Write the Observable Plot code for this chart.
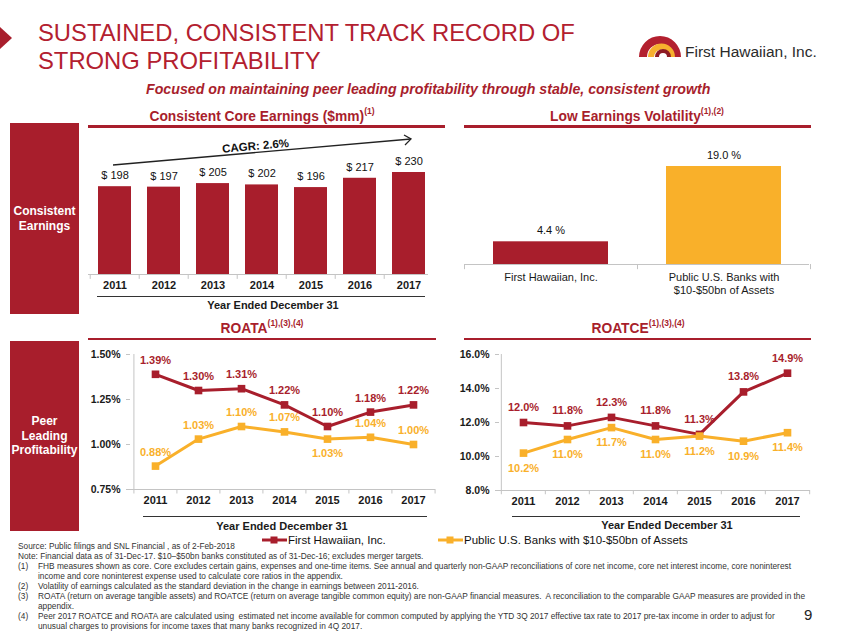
<!DOCTYPE html>
<html><head><meta charset="utf-8">
<script src="https://cdn.jsdelivr.net/npm/d3@7"></script>
<script src="https://cdn.jsdelivr.net/npm/@observablehq/plot@0.6"></script>
<style>
body{margin:0;background:#fff;font-family:"Liberation Sans",Arial,sans-serif;}
#page{position:relative;width:847px;height:635px;overflow:hidden;background:#fff;}
.abs{position:absolute;}
.title{position:absolute;left:38px;top:19px;font-size:23.8px;line-height:28px;color:#B3202F;white-space:nowrap;}
.sub{position:absolute;left:146px;top:81px;font-size:14.2px;line-height:16px;font-weight:bold;font-style:italic;color:#A81E2C;white-space:nowrap;}
.hdr{position:absolute;color:#A81E2C;font-weight:bold;font-size:13.8px;line-height:16px;text-align:center;white-space:nowrap;}
.hdr sup{font-size:8.5px;line-height:0;position:relative;top:-1px;}
.rule{position:absolute;background:#A81E2C;height:2.5px;}
.side{position:absolute;left:10px;width:69px;background:#A81E2C;color:#fff;font-weight:bold;font-size:12px;text-align:center;display:flex;align-items:center;justify-content:center;line-height:14.5px;}
.xt{position:absolute;font-weight:bold;font-size:11px;line-height:13px;color:#1a1a1a;text-align:center;white-space:nowrap;}
.dl{position:absolute;height:1.5px;background:#333;}
.fn{position:absolute;left:18px;top:541px;font-family:"Liberation Sans",Arial,sans-serif;font-size:8.3px;color:#333;line-height:10px;white-space:nowrap;}
.fn .r{display:flex;}
.fn .n{width:20px;flex:none;}
.leg{position:absolute;top:533px;font-size:11.5px;line-height:14px;color:#111;display:flex;align-items:center;white-space:nowrap;}
</style></head>
<body>
<div id="page">
  <svg class="abs" style="left:0;top:0" width="847" height="635">
    <polygon points="0,27 12,38 0,49" fill="#A81E2C"/>
    <!-- logo -->
    <path d="M639,57 A21,21 0 0 1 681,57 L673,57 A13,13 0 0 0 647,57 Z" fill="#B3202F"/>
    <path d="M648,57 A13.5,13.5 0 0 1 675,57 L669,57 A7.5,7.5 0 0 0 654,57 Z" fill="#F7B02E"/>
    <path d="M655,57 A8,8 0 0 1 671,57 L667,57 A4,4 0 0 0 659,57 Z" fill="#8E1B24"/>
    <!-- CAGR arrow -->
    <line x1="113" y1="165" x2="411" y2="139" stroke="#222" stroke-width="1.3"/>
    <polyline points="404,135 411,139 405,145" fill="none" stroke="#222" stroke-width="1.3"/>
  </svg>
  <div class="title">SUSTAINED, CONSISTENT TRACK RECORD OF<br>STRONG PROFITABILITY</div>
  <div class="abs" style="left:685px;top:44px;font-size:15.5px;line-height:16px;color:#2b2b2b;white-space:nowrap">First Hawaiian, Inc.</div>
  <div class="sub">Focused on maintaining peer leading profitability through stable, consistent growth</div>

  <div class="hdr" style="left:112px;width:300px;top:109px">Consistent Core Earnings ($mm)<sup>(1)</sup></div>
  <div class="hdr" style="left:487px;width:300px;top:109px">Low Earnings Volatility<sup>(1),(2)</sup></div>
  <div class="rule" style="left:88px;width:357px;top:125px"></div>
  <div class="rule" style="left:464px;width:347px;top:125px"></div>
  <div class="hdr" style="left:112px;width:300px;top:321px">ROATA<sup>(1),(3),(4)</sup></div>
  <div class="hdr" style="left:488px;width:300px;top:321px">ROATCE<sup>(1),(3),(4)</sup></div>
  <div class="rule" style="left:88px;width:348px;top:337.5px"></div>
  <div class="rule" style="left:464px;width:347px;top:337.5px"></div>

  <div class="side" style="top:123px;height:191px">Consistent<br>Earnings</div>
  <div class="side" style="top:341px;height:190px">Peer<br>Leading<br>Profitability</div>

  <div class="abs" style="left:222px;top:139px;width:62px;text-align:center;font-weight:bold;font-size:11.5px;line-height:14px;color:#111;transform:rotate(-5deg);white-space:nowrap">CAGR: 2.6%</div>

  <div id="c1" class="abs" style="left:80px;top:130px"></div>
  <div id="c2" class="abs" style="left:440px;top:130px"></div>
  <div id="c3" class="abs" style="left:80px;top:340px"></div>
  <div id="c4" class="abs" style="left:440px;top:340px"></div>

  <div class="dl" style="left:97px;width:328px;top:295.5px"></div>
  <div class="xt" style="left:173px;width:200px;top:299px">Year Ended December 31</div>
  <div class="dl" style="left:143px;width:284px;top:515.5px"></div>
  <div class="xt" style="left:182px;width:200px;top:520px">Year Ended December 31</div>
  <div class="dl" style="left:512px;width:288px;top:515.5px"></div>
  <div class="xt" style="left:567px;width:200px;top:519px">Year Ended December 31</div>

  <div id="legend"></div>

  <div class="fn">
    <div>Source: Public filings and SNL Financial , as of 2-Feb-2018</div>
    <div>Note: Financial data as of 31-Dec-17. $10–$50bn banks constituted as of 31-Dec-16; excludes merger targets.</div>
    <div class="r"><span class="n">(1)</span><span>FHB measures shown as core. Core excludes certain gains, expenses and one-time items. See annual and quarterly non-GAAP reconciliations of core net income, core net interest income, core noninterest<br>income and core noninterest expense used to calculate core ratios in the appendix.</span></div>
    <div class="r"><span class="n">(2)</span><span>Volatility of earnings calculated as the standard deviation in the change in earnings between 2011-2016.</span></div>
    <div class="r"><span class="n">(3)</span><span>ROATA (return on average tangible assets) and ROATCE (return on average tangible common equity) are non-GAAP financial measures.&nbsp; A reconciliation to the comparable GAAP measures are provided in the<br>appendix.</span></div>
    <div class="r"><span class="n">(4)</span><span>Peer 2017 ROATCE and ROATA are calculated using&nbsp; estimated net income available for common computed by applying the YTD 3Q 2017 effective tax rate to 2017 pre-tax income in order to adjust for<br>unusual charges to provisions for income taxes that many banks recognized in 4Q 2017.</span></div>
  </div>
  <div class="abs" style="left:804px;top:606px;font-size:15px;line-height:18px;color:#222">9</div>
</div>
<script>
// ---- data ----
const years = ["2011","2012","2013","2014","2015","2016","2017"];
const coreEarnings = [198, 197, 205, 202, 196, 217, 230];
const volatilityCategories = ["First Hawaiian, Inc.", "Public U.S. Banks with\n$10-$50bn of Assets"];
const volatilityValues = [4.4, 19.0];
const seriesNames = ["First Hawaiian, Inc.", "Public U.S. Banks with $10-$50bn of Assets"];
const roataFHB = [1.39, 1.30, 1.31, 1.22, 1.10, 1.18, 1.22];
const roataPeer = [0.88, 1.03, 1.10, 1.07, 1.03, 1.04, 1.00];
const roatceFHB = [12.0, 11.8, 12.3, 11.8, 11.3, 13.8, 14.9];
const roatcePeer = [10.2, 11.0, 11.7, 11.0, 11.2, 10.9, 11.4];
const roataTicks = [0.75, 1.00, 1.25, 1.50];
const roatceTicks = [8, 10, 12, 14, 16];

// ---- styles ----
const RED = "#A81E2C", YEL = "#F9B02A", AX = "#c4c4c4";
const FONT = "Liberation Sans, Arial, sans-serif";
const plotStyle = {fontFamily: FONT, fontSize: "11px", color: "#1a1a1a", background: "transparent", overflow: "visible"};

// Chart 1: core earnings
const earn = years.map((year, i) => ({year, value: coreEarnings[i]}));
const r1 = [8, 355], step1 = (r1[1] - r1[0]) / years.length;
const c1 = Plot.plot({
  width: 360, height: 185, marginLeft: 8, marginRight: 12, marginTop: 0, marginBottom: 41,
  style: plotStyle,
  x: {type: "band", domain: years, range: r1, paddingInner: 0.334, paddingOuter: 0.167, label: null},
  y: {domain: [0, 230], range: [144, 42], axis: null},
  marks: [
    Plot.barY(earn, {x: "year", y: "value", fill: RED}),
    Plot.text(earn, {x: "year", y: "value", text: d => "$ " + d.value, dy: -11, fontSize: 11, fill: "#111"}),
    Plot.ruleY([0], {stroke: AX}),
    Plot.ruleX(years, {x: d => d, y1: 0, y2: -11, dx: -step1 / 2, stroke: AX}),
    Plot.axisX({label: null, tickSize: 0, tickPadding: 7, fontSize: 11, fontWeight: "bold", color: "#1a1a1a"})
  ]
});
document.getElementById("c1").append(c1);

// Chart 2: volatility
const vol = volatilityCategories.map((name, i) => ({name, value: volatilityValues[i]}));
const r2 = [24, 370], step2 = (r2[1] - r2[0]) / vol.length;
const c2 = Plot.plot({
  width: 380, height: 170, marginLeft: 24, marginRight: 11, marginTop: 0, marginBottom: 36,
  style: plotStyle,
  x: {type: "band", domain: volatilityCategories, range: r2, paddingInner: 0.335, paddingOuter: 0.1675, label: null},
  y: {domain: [0, 19], range: [134, 36], axis: null},
  marks: [
    Plot.barY(vol, {x: "name", y: "value", fill: (d, i) => i === 0 ? RED : YEL}),
    Plot.text(vol, {x: "name", y: "value", text: d => d.value.toFixed(1) + " %", dy: -11, fontSize: 11, fill: "#111"}),
    Plot.ruleY([0], {stroke: AX}),
    Plot.ruleX(volatilityCategories, {x: d => d, y1: 0, y2: -1, dx: -step2 / 2, stroke: AX}),
    Plot.ruleX(volatilityCategories.slice(-1), {x: d => d, y1: 0, y2: -1, dx: step2 / 2, stroke: AX}),
    Plot.axisX({label: null, tickSize: 0, tickPadding: 7, fontSize: 11, lineHeight: 1.2, color: "#1a1a1a"})
  ]
});
document.getElementById("c2").append(c2);

// line chart helper
function lineChart({fhb, peer, ticks, fmt, yDomain, yRange, xRange, width, height, marginLeft, marginRight, marginTop, marginBottom, peerBelow, fhbDy, peerDy, tickLen}) {
  const A = years.map((year, i) => ({year, value: fhb[i], series: seriesNames[0]}));
  const B = years.map((year, i) => ({year, value: peer[i], series: seriesNames[1]}));
  const half = (xRange[1] - xRange[0]) / (years.length - 1) / 2;
  const below = B.filter(d => peerBelow(d));
  const above = B.filter(d => !peerBelow(d));
  return Plot.plot({
    width, height, marginLeft, marginRight, marginTop, marginBottom,
    style: plotStyle,
    x: {type: "point", domain: years, range: xRange, padding: 0, label: null},
    y: {domain: yDomain, range: yRange, label: null},
    marks: [
      Plot.ruleY([yDomain[0]], {stroke: AX}),
      Plot.ruleX([years[0]], {dx: -half, stroke: AX}),
      Plot.ruleX(years, {x: d => d, y1: yDomain[0], y2: yDomain[0] - tickLen, dx: -half, stroke: AX}),
      Plot.ruleX(years.slice(-1), {x: d => d, y1: yDomain[0], y2: yDomain[0] - tickLen, dx: half, stroke: AX}),
      Plot.axisY({label: null, ticks, tickFormat: fmt, tickSize: 4, tickPadding: 6, fontSize: 10.5, fontWeight: "bold", color: "#1a1a1a", stroke: AX}),
      Plot.axisX({label: null, tickSize: 0, tickPadding: 7, fontSize: 11, fontWeight: "bold", color: "#1a1a1a"}),
      Plot.line(A, {x: "year", y: "value", stroke: RED, strokeWidth: 3}),
      Plot.dot(A, {x: "year", y: "value", symbol: "square", r: 4.3, fill: RED}),
      Plot.line(B, {x: "year", y: "value", stroke: YEL, strokeWidth: 3}),
      Plot.dot(B, {x: "year", y: "value", symbol: "square", r: 4.3, fill: YEL}),
      Plot.text(A, {x: "year", y: "value", text: d => fmt(d.value), dy: fhbDy, fontSize: 11, fontWeight: "bold", fill: RED}),
      Plot.text(above, {x: "year", y: "value", text: d => fmt(d.value), dy: -peerDy, fontSize: 11, fontWeight: "bold", fill: YEL}),
      Plot.text(below, {x: "year", y: "value", text: d => fmt(d.value), dy: peerDy, fontSize: 11, fontWeight: "bold", fill: YEL})
    ]
  });
}

const c3 = lineChart({
  fhb: roataFHB, peer: roataPeer, ticks: roataTicks, fmt: v => v.toFixed(2) + "%",
  yDomain: [0.75, 1.5], yRange: [149, 14], xRange: [74, 333],
  width: 360, height: 195, marginLeft: 50, marginRight: 5, marginTop: 14, marginBottom: 46,
  peerBelow: d => d.year === "2015", fhbDy: -14, peerDy: 14, tickLen: 0.025
});
document.getElementById("c3").append(c3);

const c4 = lineChart({
  fhb: roatceFHB, peer: roatcePeer, ticks: roatceTicks, fmt: v => v.toFixed(1) + "%",
  yDomain: [8, 16], yRange: [150, 14], xRange: [82, 348],
  width: 380, height: 195, marginLeft: 59, marginRight: 10, marginTop: 14, marginBottom: 45,
  peerBelow: d => true, fhbDy: -15, peerDy: 15, tickLen: 0.25
});
document.getElementById("c4").append(c4);

// legend
const legend = document.getElementById("legend");
const legPos = [262, 438];
const legColors = [RED, YEL];
seriesNames.forEach((name, i) => {
  const el = document.createElement("div");
  el.className = "leg";
  el.style.left = legPos[i] + "px";
  el.innerHTML = `<svg width="25" height="10" style="margin-right:1px"><line x1="0" y1="5" x2="25" y2="5" stroke="${legColors[i]}" stroke-width="3"/><rect x="8.5" y="1.5" width="7" height="7" fill="${legColors[i]}"/></svg><span>${name}</span>`;
  legend.append(el);
});
</script>
</body></html>
